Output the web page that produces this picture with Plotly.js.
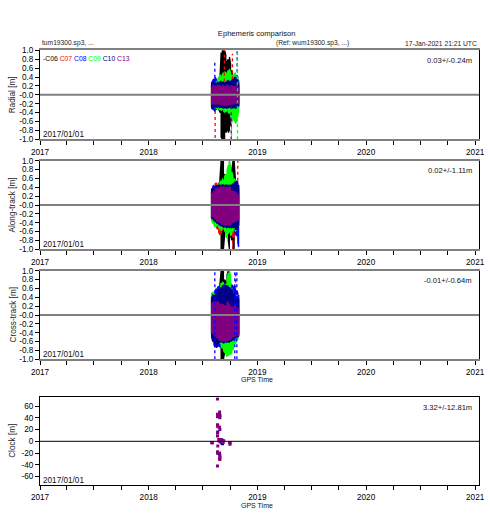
<!DOCTYPE html>
<html><head><meta charset="utf-8">
<script src="https://cdn.plot.ly/plotly-3.0.1.min.js"></script>
<style>html,body{margin:0;padding:0;background:#fff}</style>
</head><body><div id="chart" style="width:490px;height:520px"></div>
<script>
// ---------------- DATA ----------------
const satellites = ['C06','C07','C08','C09','C10','C13'];
const satColors  = ['#000000','#ff0000','#0000ff','#00ff00','#00008b','#800080'];
const yearTicks  = ['2017-01-01','2018-01-01','2019-01-01','2020-01-01','2021-01-01'];
const yearLabels = ['2017','2018','2019','2020','2021'];
const orbitTickVals = [-1,-0.8,-0.6,-0.4,-0.2,0,0.2,0.4,0.6,0.8,1];
const orbitTickText = ['-1.0','-0.8','-0.6','-0.4','-0.2','-0.0','0.2','0.4','0.6','0.8','1.0'];
const clockTickVals = [-60,-40,-20,0,20,40,60];
const clockTickText = ['-60','-40','-20','0','20','40','60'];

// sample dates of the min/max envelopes
const bandDates = ['2018-07-31','2018-08-04','2018-08-08','2018-08-12','2018-08-16','2018-08-20','2018-08-24','2018-08-28',
  '2018-09-01','2018-09-05','2018-09-09','2018-09-13','2018-09-17','2018-09-21','2018-09-25','2018-09-29',
  '2018-10-03','2018-10-07','2018-10-11','2018-10-15','2018-10-19','2018-10-23','2018-10-27','2018-10-30'];

// Radial [m] : upper / lower envelope per satellite
const radialC06Hi = [0.2,0.22,0.25,0.25,0.28,0.3,0.32,0.35,0.95,1.0,1.0,1.0,0.9,0.75,0.8,0.85,0.7,0.55,0.4,0.3,0.28,0.3,0.25,0.22];
const radialC06Lo = [-0.2,-0.22,-0.25,-0.25,-0.28,-0.3,-0.32,-0.4,-0.95,-1.0,-1.0,-1.0,-0.85,-0.8,-0.85,-0.8,-0.7,-0.6,-0.45,-0.3,-0.28,-0.3,-0.25,-0.22];
const radialC07Hi = [0.25,0.28,0.3,0.32,0.3,0.28,0.3,0.32,0.35,0.3,0.32,0.35,0.3,0.32,0.3,0.35,0.38,0.4,0.35,0.32,0.3,0.28,0.3,0.25];
const radialC07Lo = [-0.26,-0.3,-0.32,-0.35,-0.3,-0.28,-0.3,-0.32,-0.33,-0.3,-0.35,-0.32,-0.3,-0.33,-0.3,-0.35,-0.36,-0.38,-0.33,-0.3,-0.32,-0.28,-0.3,-0.25];
const radialC08Hi = [0.3,0.33,0.36,0.4,0.35,0.32,0.3,0.33,0.35,0.32,0.3,0.34,0.32,0.35,0.33,0.38,0.36,0.34,0.4,0.45,0.48,0.44,0.4,0.33];
const radialC08Lo = [-0.3,-0.33,-0.35,-0.38,-0.33,-0.3,-0.32,-0.3,-0.34,-0.32,-0.3,-0.33,-0.31,-0.35,-0.32,-0.34,-0.36,-0.33,-0.38,-0.4,-0.42,-0.38,-0.35,-0.3];
const radialC09Hi = [0.22,0.24,0.26,0.28,0.3,0.34,0.4,0.45,0.42,0.46,0.5,0.52,0.48,0.5,0.55,0.58,0.5,0.45,0.42,0.46,0.5,0.45,0.4,0.3];
const radialC09Lo = [-0.24,-0.26,-0.28,-0.3,-0.3,-0.32,-0.3,-0.34,-0.36,-0.32,-0.36,-0.4,-0.38,-0.36,-0.4,-0.42,-0.48,-0.55,-0.5,-0.6,-0.65,-0.6,-0.5,-0.35];
const radialC10Hi = [0.25,0.27,0.29,0.27,0.26,0.28,0.27,0.29,0.3,0.28,0.29,0.27,0.29,0.31,0.33,0.3,0.31,0.33,0.36,0.38,0.4,0.37,0.34,0.28];
const radialC10Lo = [-0.27,-0.29,-0.3,-0.29,-0.27,-0.29,-0.27,-0.29,-0.28,-0.29,-0.31,-0.29,-0.29,-0.31,-0.29,-0.28,-0.29,-0.3,-0.29,-0.29,-0.31,-0.29,-0.27,-0.24];
const radialC13Hi = [0.18,0.2,0.22,0.2,0.19,0.21,0.2,0.22,0.18,0.2,0.21,0.19,0.2,0.22,0.2,0.18,0.21,0.2,0.19,0.2,0.18,0.2,0.19,0.17];
const radialC13Lo = [-0.2,-0.22,-0.2,-0.21,-0.19,-0.22,-0.2,-0.21,-0.23,-0.2,-0.22,-0.24,-0.22,-0.25,-0.23,-0.21,-0.22,-0.2,-0.21,-0.2,-0.19,-0.21,-0.2,-0.18];

// Along-track [m]
const alongC06Hi = [0.3,0.32,0.35,0.4,0.42,0.45,0.5,0.6,1.0,1.0,1.0,0.7,0.6,0.65,0.8,1.0,0.7,0.8,1.0,1.0,0.6,0.5,0.45,0.35];
const alongC06Lo = [-0.3,-0.32,-0.35,-0.4,-0.42,-0.45,-0.5,-0.6,-1.0,-1.0,-1.0,-0.7,-0.6,-0.65,-0.8,-1.0,-0.7,-0.8,-1.0,-1.0,-0.6,-0.5,-0.45,-0.35];
const alongC07Hi = [0.3,0.35,0.42,0.48,0.5,0.45,0.4,0.42,0.45,0.4,0.42,0.45,0.42,0.45,0.48,0.45,0.5,0.55,0.58,0.6,0.55,0.5,0.45,0.4];
const alongC07Lo = [-0.3,-0.35,-0.4,-0.45,-0.5,-0.55,-0.62,-0.68,-0.65,-0.55,-0.5,-0.52,-0.5,-0.55,-0.52,-0.55,-0.6,-0.65,-0.7,-0.75,-0.6,-0.55,-0.5,-0.45];
const alongC08Hi = [0.38,0.42,0.45,0.42,0.4,0.42,0.45,0.43,0.42,0.45,0.44,0.42,0.45,0.43,0.45,0.44,0.42,0.45,0.48,0.5,0.52,0.5,0.48,0.45];
const alongC08Lo = [-0.3,-0.35,-0.38,-0.4,-0.42,-0.45,-0.48,-0.5,-0.48,-0.5,-0.52,-0.5,-0.52,-0.5,-0.52,-0.5,-0.52,-0.55,-0.55,-0.6,-0.65,-0.7,-0.85,-0.95];
const alongC09Hi = [0.32,0.35,0.38,0.4,0.42,0.45,0.48,0.5,0.55,0.6,0.55,0.65,0.7,0.8,0.9,1.0,0.85,0.75,0.65,0.6,0.55,0.5,0.45,0.4];
const alongC09Lo = [-0.35,-0.42,-0.45,-0.5,-0.48,-0.45,-0.5,-0.55,-0.58,-0.55,-0.5,-0.6,-0.7,-0.75,-0.65,-0.6,-0.7,-0.65,-0.6,-0.55,-0.6,-0.55,-0.5,-0.45];
const alongC10Hi = [0.36,0.38,0.4,0.42,0.43,0.44,0.45,0.45,0.44,0.46,0.45,0.44,0.46,0.45,0.44,0.45,0.44,0.46,0.48,0.5,0.53,0.55,0.52,0.45];
const alongC10Lo = [-0.3,-0.32,-0.35,-0.38,-0.4,-0.42,-0.44,-0.46,-0.47,-0.48,-0.5,-0.49,-0.5,-0.52,-0.5,-0.51,-0.5,-0.52,-0.5,-0.52,-0.55,-0.55,-0.52,-0.45];
const alongC13Hi = [0.27,0.29,0.3,0.35,0.38,0.38,0.37,0.4,0.41,0.4,0.42,0.4,0.41,0.39,0.4,0.42,0.38,0.33,0.3,0.3,0.29,0.28,0.25,0.22];
const alongC13Lo = [-0.26,-0.27,-0.28,-0.32,-0.36,-0.37,-0.38,-0.4,-0.42,-0.44,-0.45,-0.44,-0.45,-0.44,-0.46,-0.45,-0.44,-0.42,-0.4,-0.38,-0.37,-0.37,-0.35,-0.3];

// Cross-track [m]
const crossC06Hi = [0.35,0.38,0.4,0.45,0.5,0.55,0.6,0.7,1.0,1.0,1.0,0.8,0.75,0.9,1.0,0.85,0.7,0.65,0.6,0.55,0.5,0.45,0.4,0.35];
const crossC06Lo = [-0.4,-0.45,-0.5,-0.55,-0.6,-0.62,-0.65,-0.7,-1.0,-1.0,-1.0,-0.85,-0.8,-0.85,-0.8,-0.75,-0.7,-0.7,-0.65,-0.6,-0.55,-0.5,-0.45,-0.4];
const crossC07Hi = [0.35,0.4,0.42,0.45,0.5,0.55,0.6,0.62,0.65,0.7,0.72,0.68,0.7,0.72,0.75,0.7,0.72,0.68,0.65,0.62,0.6,0.55,0.5,0.45];
const crossC07Lo = [-0.42,-0.48,-0.55,-0.6,-0.62,-0.65,-0.68,-0.7,-0.72,-0.75,-0.7,-0.72,-0.75,-0.72,-0.7,-0.72,-0.7,-0.68,-0.65,-0.62,-0.6,-0.55,-0.5,-0.45];
const crossC08Hi = [0.4,0.45,0.5,0.55,0.6,0.62,0.65,0.68,0.7,0.72,0.7,0.72,0.7,0.72,0.7,0.72,0.7,0.68,0.66,0.64,0.6,0.55,0.5,0.45];
const crossC08Lo = [-0.45,-0.55,-0.6,-0.65,-0.7,-0.72,-0.7,-0.72,-0.75,-0.72,-0.7,-0.72,-0.75,-0.72,-0.7,-0.72,-0.7,-0.68,-0.66,-0.64,-0.6,-0.55,-0.5,-0.45];
const crossC09Hi = [0.5,0.52,0.5,0.48,0.45,0.42,0.4,0.55,0.72,0.75,0.72,0.65,0.7,0.8,0.95,1.0,0.9,0.6,0.55,0.5,0.45,0.45,0.4,0.35];
const crossC09Lo = [-0.42,-0.45,-0.5,-0.55,-0.58,-0.6,-0.62,-0.65,-0.7,-0.75,-0.8,-0.85,-0.9,-0.95,-0.92,-0.88,-0.9,-0.85,-0.8,-0.7,-0.65,-0.6,-0.55,-0.45];
const crossC10Hi = [0.42,0.45,0.44,0.45,0.5,0.55,0.58,0.6,0.62,0.65,0.68,0.66,0.68,0.66,0.65,0.62,0.6,0.58,0.55,0.5,0.45,0.42,0.4,0.38];
const crossC10Lo = [-0.5,-0.6,-0.68,-0.72,-0.74,-0.7,-0.65,-0.62,-0.6,-0.62,-0.64,-0.62,-0.6,-0.62,-0.6,-0.62,-0.6,-0.58,-0.56,-0.55,-0.52,-0.5,-0.5,-0.48];
const crossC13Hi = [0.27,0.28,0.3,0.3,0.29,0.3,0.28,0.25,0.22,0.25,0.23,0.2,0.22,0.28,0.3,0.25,0.18,0.2,0.15,0.2,0.22,0.18,0.15,0.15];
const crossC13Lo = [-0.4,-0.42,-0.45,-0.48,-0.5,-0.52,-0.55,-0.58,-0.6,-0.58,-0.6,-0.58,-0.6,-0.57,-0.58,-0.56,-0.55,-0.52,-0.5,-0.48,-0.48,-0.47,-0.46,-0.45];

// isolated outlier columns (date, from, to)
const radialC07SpikeDates = ['2018-08-12','2018-09-12','2018-10-09'];
const radialC07SpikeLo = [-0.97,0.3,0.35];
const radialC07SpikeHi = [-0.3,1.0,0.92];
const radialC08SpikeDates = ['2018-08-11','2018-10-25'];
const radialC08SpikeLo = [0.25,-0.3];
const radialC08SpikeHi = [0.72,1.0];
const radialC09SpikeDates = ['2018-10-06','2018-10-26'];
const radialC09SpikeLo = [-0.92,-1.0];
const radialC09SpikeHi = [-0.3,1.0];
const radialC13SpikeDates = ['2018-10-05'];
const radialC13SpikeLo = [-1.0];
const radialC13SpikeHi = [-0.2];
const alongC07SpikeDates = ['2018-10-27','2018-10-10'];
const alongC07SpikeLo = [0.55,-1.0];
const alongC07SpikeHi = [1.0,-0.6];
const crossC07SpikeDates = ['2018-10-20'];
const crossC07SpikeLo = [0.6];
const crossC07SpikeHi = [1.0];
const crossC08SpikeDates = ['2018-08-11','2018-10-17','2018-10-24'];
const crossC08SpikeLo = [-1.0,-1.0,-1.0];
const crossC08SpikeHi = [1.0,1.0,1.0];

// Clock [m]
const clockC07Dates = ['2018-08-28','2018-08-20','2018-08-21'];
const clockC07Values = [-31,-19,27];
const clockC08Dates = ['2018-08-20','2018-08-27','2018-09-03','2018-08-02'];
const clockC08Values = [45,-22,-3,-2];
const clockC10Dates = ['2018-08-21','2018-08-28','2018-09-06','2018-10-01'];
const clockC10Values = [16,44,-4,-2];
const clockC13Dates = ['2018-08-01','2018-08-02','2018-08-20','2018-08-20','2018-08-20','2018-08-21','2018-08-20','2018-08-21',
  '2018-08-20','2018-08-20','2018-08-21','2018-08-20','2018-08-21','2018-08-20','2018-08-27','2018-08-27','2018-08-28',
  '2018-08-27','2018-08-28','2018-08-27','2018-08-28','2018-08-27','2018-08-28','2018-08-24','2018-08-26','2018-08-28',
  '2018-08-30','2018-09-02','2018-09-04','2018-09-06','2018-09-08','2018-09-10','2018-09-30','2018-10-01'];
const clockC13Values = [-2,-3,72,46,42,44,28,25,14,9,-8,-18,-21,-42,50,46,40,24,20,-20,-25,-30,-28,3,0,2,-1,3,0,2,-2,1,-3,-5];

const statTexts = ['0.03+/-0.24m','0.02+/-1.11m','-0.01+/-0.64m','3.32+/-12.81m'];
const panelTitles = ['Radial [m]','Along-track [m]','Cross-track [m]','Clock [m]'];

// ---------------- BUILD ----------------
const W = 490, H = 520;
const FONT = 'Liberation Sans, Arial, Helvetica, sans-serif';
const xRange = ['2017-01-01','2021-01-14'];
const panelPx = [[50.3,139.3],[160.7,249.3],[270.7,359.3],[397.3,485.3]];
const dom = p => [1 - p[1]/H, 1 - p[0]/H];

const bands = [
  [[radialC06Hi,radialC06Lo],[radialC07Hi,radialC07Lo],[radialC08Hi,radialC08Lo],[radialC09Hi,radialC09Lo],[radialC10Hi,radialC10Lo],[radialC13Hi,radialC13Lo]],
  [[alongC06Hi,alongC06Lo],[alongC07Hi,alongC07Lo],[alongC08Hi,alongC08Lo],[alongC09Hi,alongC09Lo],[alongC10Hi,alongC10Lo],[alongC13Hi,alongC13Lo]],
  [[crossC06Hi,crossC06Lo],[crossC07Hi,crossC07Lo],[crossC08Hi,crossC08Lo],[crossC09Hi,crossC09Lo],[crossC10Hi,crossC10Lo],[crossC13Hi,crossC13Lo]]
];
const spikes = [
  [[1,radialC07SpikeDates,radialC07SpikeLo,radialC07SpikeHi],[2,radialC08SpikeDates,radialC08SpikeLo,radialC08SpikeHi],
   [3,radialC09SpikeDates,radialC09SpikeLo,radialC09SpikeHi],[5,radialC13SpikeDates,radialC13SpikeLo,radialC13SpikeHi]],
  [[1,alongC07SpikeDates,alongC07SpikeLo,alongC07SpikeHi]],
  [[1,crossC07SpikeDates,crossC07SpikeLo,crossC07SpikeHi],[2,crossC08SpikeDates,crossC08SpikeLo,crossC08SpikeHi]]
];
const clocks = [[1,clockC07Dates,clockC07Values],[2,clockC08Dates,clockC08Values],[4,clockC10Dates,clockC10Values],[5,clockC13Dates,clockC13Values]];

const traces = [];
bands.forEach((panel, p) => {
  const ax = p === 0 ? '' : String(p+1);
  panel.forEach(([hi, lo], s) => {
    const x = [], y = [];
    bandDates.forEach((d, i) => {
      if (hi[i] == null) return;
      x.push(d, d);
      if (i % 2 === 0) y.push(hi[i], lo[i]); else y.push(lo[i], hi[i]);
    });
    traces.push({type:'scatter', mode:'lines', x, y, xaxis:'x'+ax, yaxis:'y'+ax,
      line:{color:satColors[s], width:1.2}, hoverinfo:'skip', showlegend:false});
  });
  spikes[p].forEach(([s, ds, lo, hi]) => {
    const x = [], y = [];
    ds.forEach((d, i) => { x.push(d, d, null); y.push(lo[i], hi[i], null); });
    traces.push({type:'scatter', mode:'lines', x, y, xaxis:'x'+ax, yaxis:'y'+ax,
      line:{color:satColors[s], width:1.3, dash:'dot'}, hoverinfo:'skip', showlegend:false});
  });
});
clocks.forEach(([s, ds, vs]) => {
  traces.push({type:'scatter', mode:'markers', x:ds, y:vs, xaxis:'x4', yaxis:'y4',
    marker:{color:satColors[s], size:3, symbol:'square'}, hoverinfo:'skip', showlegend:false});
});

const layout = {
  width:W, height:H, margin:{l:0,r:0,t:0,b:0}, paper_bgcolor:'#fff', plot_bgcolor:'#fff',
  showlegend:false, font:{family:FONT, size:8.2, color:'#000'},
  title:{text:'Ephemeris comparison', x:256.7/W, xanchor:'center', y:1-33/H, yanchor:'middle', font:{size:7.6, color:'#111'}},
  annotations:[], shapes:[]
};
for (let p = 0; p < 4; p++) {
  const ax = p === 0 ? '' : String(p+1);
  const light = p < 3;
  layout['xaxis'+ax] = {
    domain:[40/W, 479/W], range:xRange, type:'date', anchor:'y'+ax,
    tickmode:'array', tickvals:yearTicks, ticktext:yearLabels,
    ticks:'outside', ticklen:4, tickwidth:1, tickcolor:'#000', tickfont:{size:8.2},
    minor:{dtick:'M3', tick0:'2017-01-01', ticks:'outside', ticklen:4, tickwidth:1, tickcolor:'#000', showgrid:false},
    showgrid:false, zeroline:false, showline:true, mirror:true,
    linecolor: light ? '#808080' : '#000', linewidth: light ? 2 : 1, fixedrange:true
  };
  layout['yaxis'+ax] = {
    domain:dom(panelPx[p]), anchor:'x'+ax,
    range: p < 3 ? [-1,1] : [-75,75],
    tickmode:'array', tickvals: p < 3 ? orbitTickVals : clockTickVals, ticktext: p < 3 ? orbitTickText : clockTickText,
    ticks:'outside', ticklen:4, tickwidth:1, tickcolor:'#000', tickfont:{size:8.2},
    showgrid:false, zeroline:false, showline:true, mirror:true, linecolor:'#000', linewidth:1, fixedrange:true
  };
  layout.shapes.push({type:'line', xref:'x'+ax+' domain', x0:0, x1:1, yref:'y'+ax, y0:0, y1:0, layer:'above',
    line:{color: light ? '#808080' : '#000', width: light ? 2 : 1}});
  const top = panelPx[p][0], bot = panelPx[p][1];
  layout.annotations.push({text:panelTitles[p], xref:'paper', yref:'paper', x:12.5/W, y:1-(top+bot)/2/H,
    textangle:-90, xanchor:'center', yanchor:'middle', showarrow:false, font:{size:8.2, color:'#222'}});
  layout.annotations.push({text:statTexts[p], xref:'paper', yref:'paper', x:473.5/W, y:1-(top+9.7)/H,
    xanchor:'right', yanchor:'middle', showarrow:false, font:{size:7.6, color:'#111'}});
  layout.annotations.push({text:'2017/01/01', xref:'paper', yref:'paper', x:40.5/W, y:1-(bot-5.3)/H,
    xanchor:'left', yanchor:'middle', showarrow:false, font:{size:8.2, color:'#111'}});
  if (p >= 2) layout.annotations.push({text:'GPS Time', xref:'paper', yref:'paper', x:257/W, y:1-(bot+20.5)/H,
    xanchor:'center', yanchor:'middle', showarrow:false, font:{size:7, color:'#111'}});
}
const legendHtml = satellites.map((s, i) => '<span style="color:' + satColors[i] + '">' + (i === 0 ? '-' : '') + s + '</span>').join(' ');
layout.annotations.push({text:legendHtml, xref:'paper', yref:'paper', x:40.5/W, y:1-58.5/H, xanchor:'left', yanchor:'middle', showarrow:false, font:{size:6.8}});
layout.annotations.push({text:'tum19300.sp3, ...', xref:'paper', yref:'paper', x:40/W, y:1-43/H, xanchor:'left', yanchor:'middle', showarrow:false, font:{size:6.7, color:'#222'}});
layout.annotations.push({text:'(Ref: wum19300.sp3, ...)', xref:'paper', yref:'paper', x:312/W, y:1-43/H, xanchor:'center', yanchor:'middle', showarrow:false, font:{size:6.7, color:'#222'}});
layout.annotations.push({text:'17-Jan-2021 21:21 UTC', xref:'paper', yref:'paper', x:479/W, y:1-43/H, xanchor:'right', yanchor:'middle', showarrow:false, font:{size:6.7, color:'#222'}});

Plotly.newPlot('chart', traces, layout, {displayModeBar:false, staticPlot:true});
</script></body></html>
